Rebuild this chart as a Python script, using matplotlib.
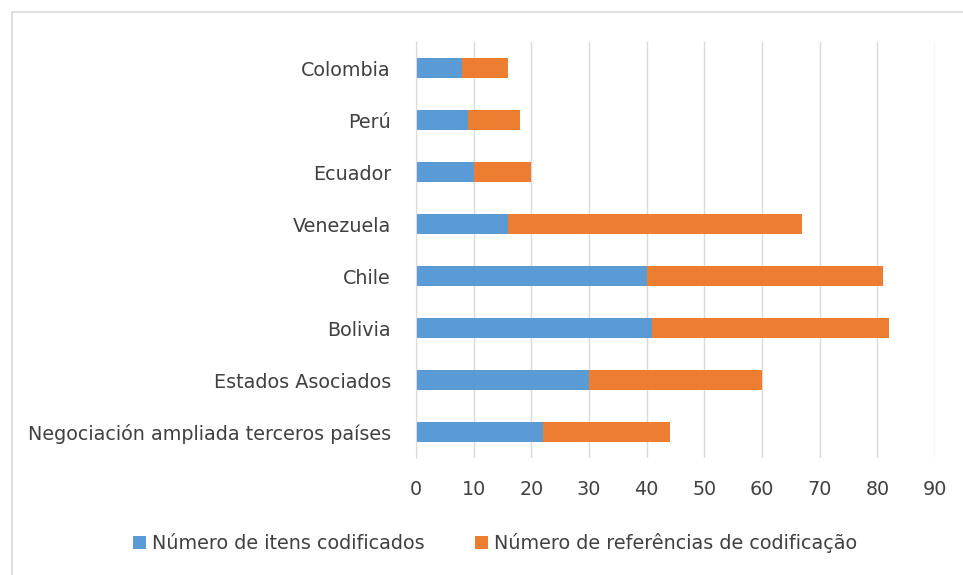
import matplotlib.pyplot as plt
from matplotlib.patches import Rectangle

categories = ["Colombia", "Perú", "Ecuador", "Venezuela", "Chile", "Bolivia",
              "Estados Asociados", "Negociación ampliada terceros países"]
itens = [8, 9, 10, 16, 40, 41, 30, 22]
referencias = [8, 9, 10, 51, 41, 41, 30, 22]
series_names = ["Número de itens codificados", "Número de referências de codificação"]
xticks = list(range(0, 100, 10))

plt.rcParams['font.family'] = ['DejaVu Sans']

fig = plt.figure(figsize=(9.63, 5.75), dpi=100)
ax = fig.add_axes([416 / 963, 1 - 458 / 575, 519 / 963, 416 / 575])

y = list(range(len(categories)))
ax.barh(y, itens, height=0.38, color='#5B9BD5', label=series_names[0], zorder=3)
ax.barh(y, referencias, left=itens, height=0.38, color='#ED7D31', label=series_names[1], zorder=3)

ax.set_ylim(len(categories) - 0.5, -0.5)
ax.set_yticks(y)
ax.set_yticklabels(categories, fontsize=13.8, color='#404040')
ax.set_xlim(0, 90)
ax.set_xticks(xticks)
ax.tick_params(axis='x', labelsize=13.8, labelcolor='#404040', length=0, pad=16)
ax.tick_params(axis='y', length=0, pad=18)
ax.grid(axis='x', color='#D9D9D9', linewidth=1, zorder=0)
for s in ['top', 'right', 'bottom']:
    ax.spines[s].set_visible(False)
ax.spines['left'].set_color('#D9D9D9')
ax.spines['left'].set_zorder(4)

fig.legend(loc='center', bbox_to_anchor=(495 / 963, 1 - 543 / 575), ncol=2, frameon=False,
           fontsize=13.8, handlelength=0.7, handleheight=0.7, handletextpad=0.3,
           columnspacing=2.6, labelcolor='#404040')

fig.patches.append(Rectangle((12 / 963, -0.05), 1.0, 1 - 12 / 575 + 0.05, transform=fig.transFigure,
                             fill=False, edgecolor='#D9D9D9', linewidth=1.2))

fig.savefig('out.png', dpi=100)
